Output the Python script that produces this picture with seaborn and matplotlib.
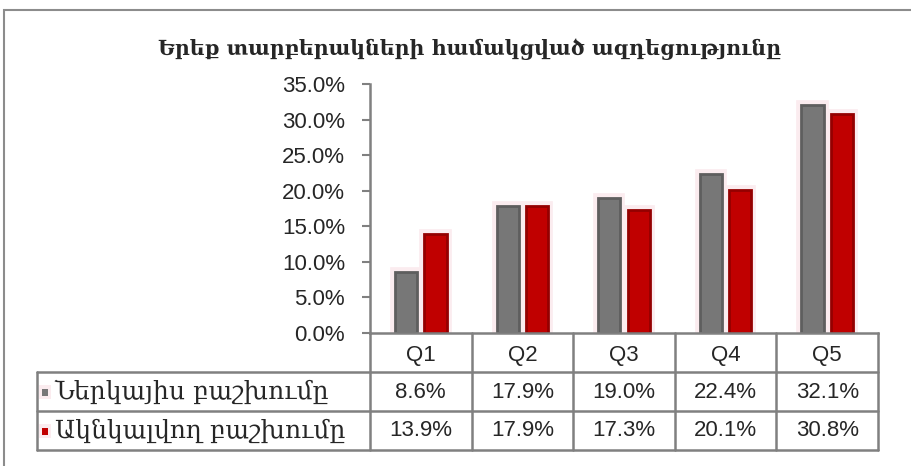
import pandas as pd
import matplotlib
matplotlib.use('Agg')
import matplotlib.pyplot as plt
import matplotlib.transforms as mtransforms
import matplotlib.patheffects as pe
from matplotlib.lines import Line2D
from matplotlib.patches import Rectangle
import seaborn as sns

# chart data
title = 'Երեք տարբերակների համակցված ազդեցությունը'
quarters = ['Q1', 'Q2', 'Q3', 'Q4', 'Q5']
series_names = ['Ներկայիս բաշխումը', 'Ակնկալվող բաշխումը']
current_share = [8.6, 17.9, 19.0, 22.4, 32.1]
expected_share = [13.9, 17.9, 17.3, 20.1, 30.8]
y_ticks = [0, 5, 10, 15, 20, 25, 30, 35]

colors = ['#777777', '#c00000']
edge_colors = ['#5e5e5e', '#940000']
line_color = '#808080'
num_font = ['Liberation Sans', 'DejaVu Sans']
arm_font = ['DejaVu Serif', 'DejaVu Sans']

W, H = 912, 466


def fy(py):
    """Pixel row (from top) to figure fraction."""
    return 1 - py / H


def fx(px):
    return px / W


df = pd.DataFrame({
    'quarter': quarters * 2,
    'series': [series_names[0]] * 5 + [series_names[1]] * 5,
    'value': current_share + expected_share,
})

sns.set_style('white')
plt.rcParams['font.family'] = num_font

fig = plt.figure(figsize=(W / 100, H / 100), dpi=100)
ax = fig.add_axes([fx(370), fy(333), fx(878) - fx(370), fy(84) - fy(333)])

sns.barplot(data=df, x='quarter', y='value', hue='series', palette=colors,
            saturation=1, width=0.58, gap=0.25, legend=False, ax=ax, zorder=3)

glow = [pe.Stroke(linewidth=7, foreground='#fbecef'), pe.Normal()]
for i, bar in enumerate(ax.patches):
    bar.set_edgecolor(edge_colors[i // len(quarters)])
    bar.set_linewidth(2)
    bar.set_path_effects(glow)

ax.set_xlim(-0.5, len(quarters) - 0.5)
ax.set_ylim(0, 35)
ax.set_yticks(y_ticks)
ax.set_yticklabels([f'{v:.1f}%' for v in y_ticks], fontsize=16)
ax.set_xticks([])
ax.set_xlabel('')
ax.set_ylabel('')
ax.tick_params(axis='y', length=6, width=1.5, color=line_color, pad=12, left=True)
for side in ['top', 'right']:
    ax.spines[side].set_visible(False)
for side in ['left', 'bottom']:
    ax.spines[side].set_color(line_color)
    ax.spines[side].set_linewidth(1.8)
    ax.spines[side].set_zorder(5)

fig.text(fx(470), fy(49), title, ha='center', va='center', fontsize=14.8,
         fontweight='bold', family=arm_font)

# outer frame
fig.add_artist(Rectangle((fx(4), -0.05), 1.2, fy(10) + 0.05, transform=fig.transFigure,
                         fill=False, edgecolor='#8c8c8c', linewidth=1.5))

# data table under the axis
tr = mtransforms.blended_transform_factory(ax.transData, fig.transFigure)
n = len(quarters)

for y in [372, 411, 450]:
    fig.add_artist(Line2D([fx(37), fx(878)], [fy(y), fy(y)], color=line_color,
                          linewidth=1.8, transform=fig.transFigure))
fig.add_artist(Line2D([fx(37), fx(37)], [fy(372), fy(450)], color=line_color,
                      linewidth=1.8, transform=fig.transFigure))
for k in range(n + 1):
    xb = k - 0.5
    fig.add_artist(Line2D([xb, xb], [fy(333), fy(450)], color=line_color,
                          linewidth=1.8, transform=tr))

for i, q in enumerate(quarters):
    fig.text(i, fy(355), q, transform=tr, ha='center', va='center', fontsize=16)
    fig.text(i, fy(392), f'{current_share[i]:.1f}%', transform=tr,
             ha='center', va='center', fontsize=16)
    fig.text(i, fy(431), f'{expected_share[i]:.1f}%', transform=tr,
             ha='center', va='center', fontsize=16)

for name, color, yc in zip(series_names, colors, [392, 431]):
    fig.add_artist(Rectangle((fx(39), fy(yc + 7)), fx(12), fy(yc - 7) - fy(yc + 7),
                             transform=fig.transFigure, color='#fbecef', linewidth=0))
    fig.add_artist(Rectangle((fx(42), fy(yc + 4)), fx(6), fy(yc - 3) - fy(yc + 4),
                             transform=fig.transFigure, color=color, linewidth=0))
    fig.text(fx(55), fy(yc), name, ha='left', va='center', fontsize=18,
             family=arm_font)

fig.savefig('out.png', dpi=100)
